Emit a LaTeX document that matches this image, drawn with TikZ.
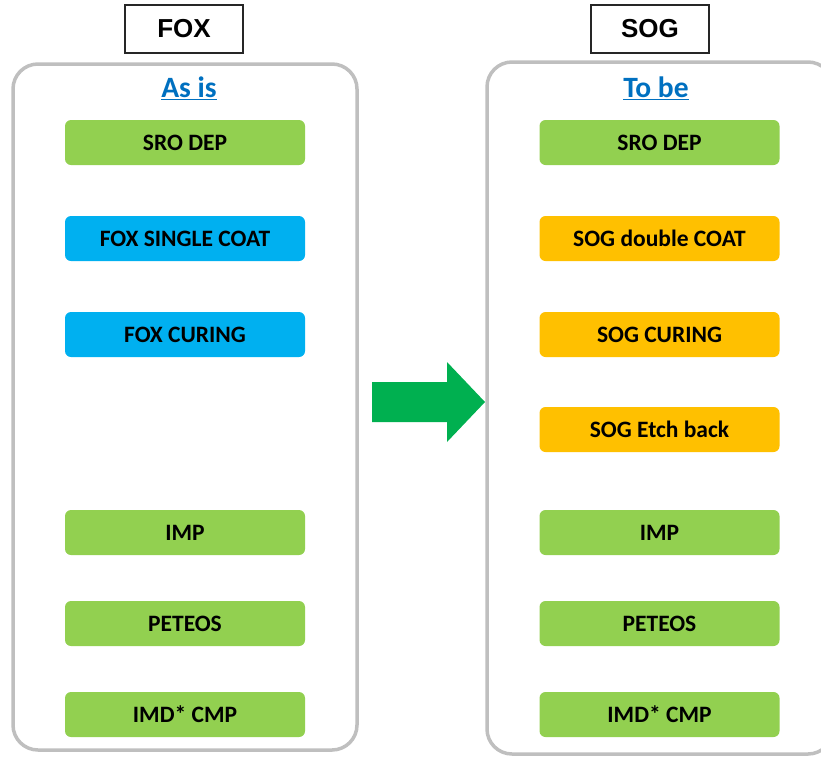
\documentclass[tikz,border=0pt]{standalone}
\usepackage{fontspec}
\setmainfont{Carlito}
\newfontfamily\titlefont{Liberation Sans}
\usetikzlibrary{positioning}
\definecolor{stepgreen}{HTML}{92D050}
\definecolor{stepblue}{HTML}{00B0F0}
\definecolor{steporange}{HTML}{FFC000}
\definecolor{arrowgreen}{HTML}{00B050}
\definecolor{headblue}{HTML}{0070C0}
\definecolor{panelgray}{HTML}{BFBFBF}
\tikzset{
  stepbox/.style={rectangle, rounded corners=6pt, minimum width=240pt, minimum height=45pt, inner sep=0pt, font=\bfseries\fontsize{23.5}{28}\selectfont},
  titlebox/.style={draw=black!85, line width=1.2pt, rectangle, minimum width=118pt, minimum height=48pt, inner sep=0pt, font=\titlefont\bfseries\fontsize{26}{30}\selectfont},
  heading/.style={text=headblue, font=\bfseries\fontsize{29.5}{34}\selectfont},
  panel/.style={draw=panelgray, line width=3.5pt, rounded corners=25pt}
}

\begin{document}
\begin{tikzpicture}[x=1pt, y=-1pt]
\useasboundingbox (0,0) rectangle (821,756);
\clip (0,0) rectangle (821,756);

% panels
\draw[panel] (13,64) rectangle (357,750);
\draw[panel] (487,62) rectangle (833,754);

% titles
\node (foxtitle) [titlebox] at (184,29) {FOX};
\node (sogtitle) [titlebox] at (650,29) {SOG};
\node (asis) [heading] at (189,88) {\underline{As is}};
\node (tobe) [heading] at (656,88) {\underline{To be}};

% as is flow
\node (asdep) [stepbox, fill=stepgreen] at (185,142.5) {SRO DEP};
\node (ascoat) [stepbox, fill=stepblue] at (185,238.5) {FOX SINGLE COAT};
\node (ascure) [stepbox, fill=stepblue] at (185,334.5) {FOX CURING};
\node (asimp) [stepbox, fill=stepgreen] at (185,532.5) {IMP};
\node (asteos) [stepbox, fill=stepgreen] at (185,623.5) {PETEOS};
\node (ascmp) [stepbox, fill=stepgreen] at (185,714.5) {IMD* CMP};

% to be flow
\node (tbdep) [stepbox, fill=stepgreen] at (659.5,142.5) {SRO DEP};
\node (tbcoat) [stepbox, fill=steporange] at (659.5,238.5) {SOG double COAT};
\node (tbcure) [stepbox, fill=steporange] at (659.5,334.5) {SOG CURING};
\node (tbetch) [stepbox, fill=steporange] at (659.5,429.5) {SOG Etch back};
\node (tbimp) [stepbox, fill=stepgreen] at (659.5,532.5) {IMP};
\node (tbteos) [stepbox, fill=stepgreen] at (659.5,623.5) {PETEOS};
\node (tbcmp) [stepbox, fill=stepgreen] at (659.5,714.5) {IMD* CMP};

% change arrow
\fill[arrowgreen] (372,382) -- (447,382) -- (447,362) -- (485,402) -- (447,442) -- (447,422) -- (372,422) -- cycle;
\end{tikzpicture}
\end{document}
